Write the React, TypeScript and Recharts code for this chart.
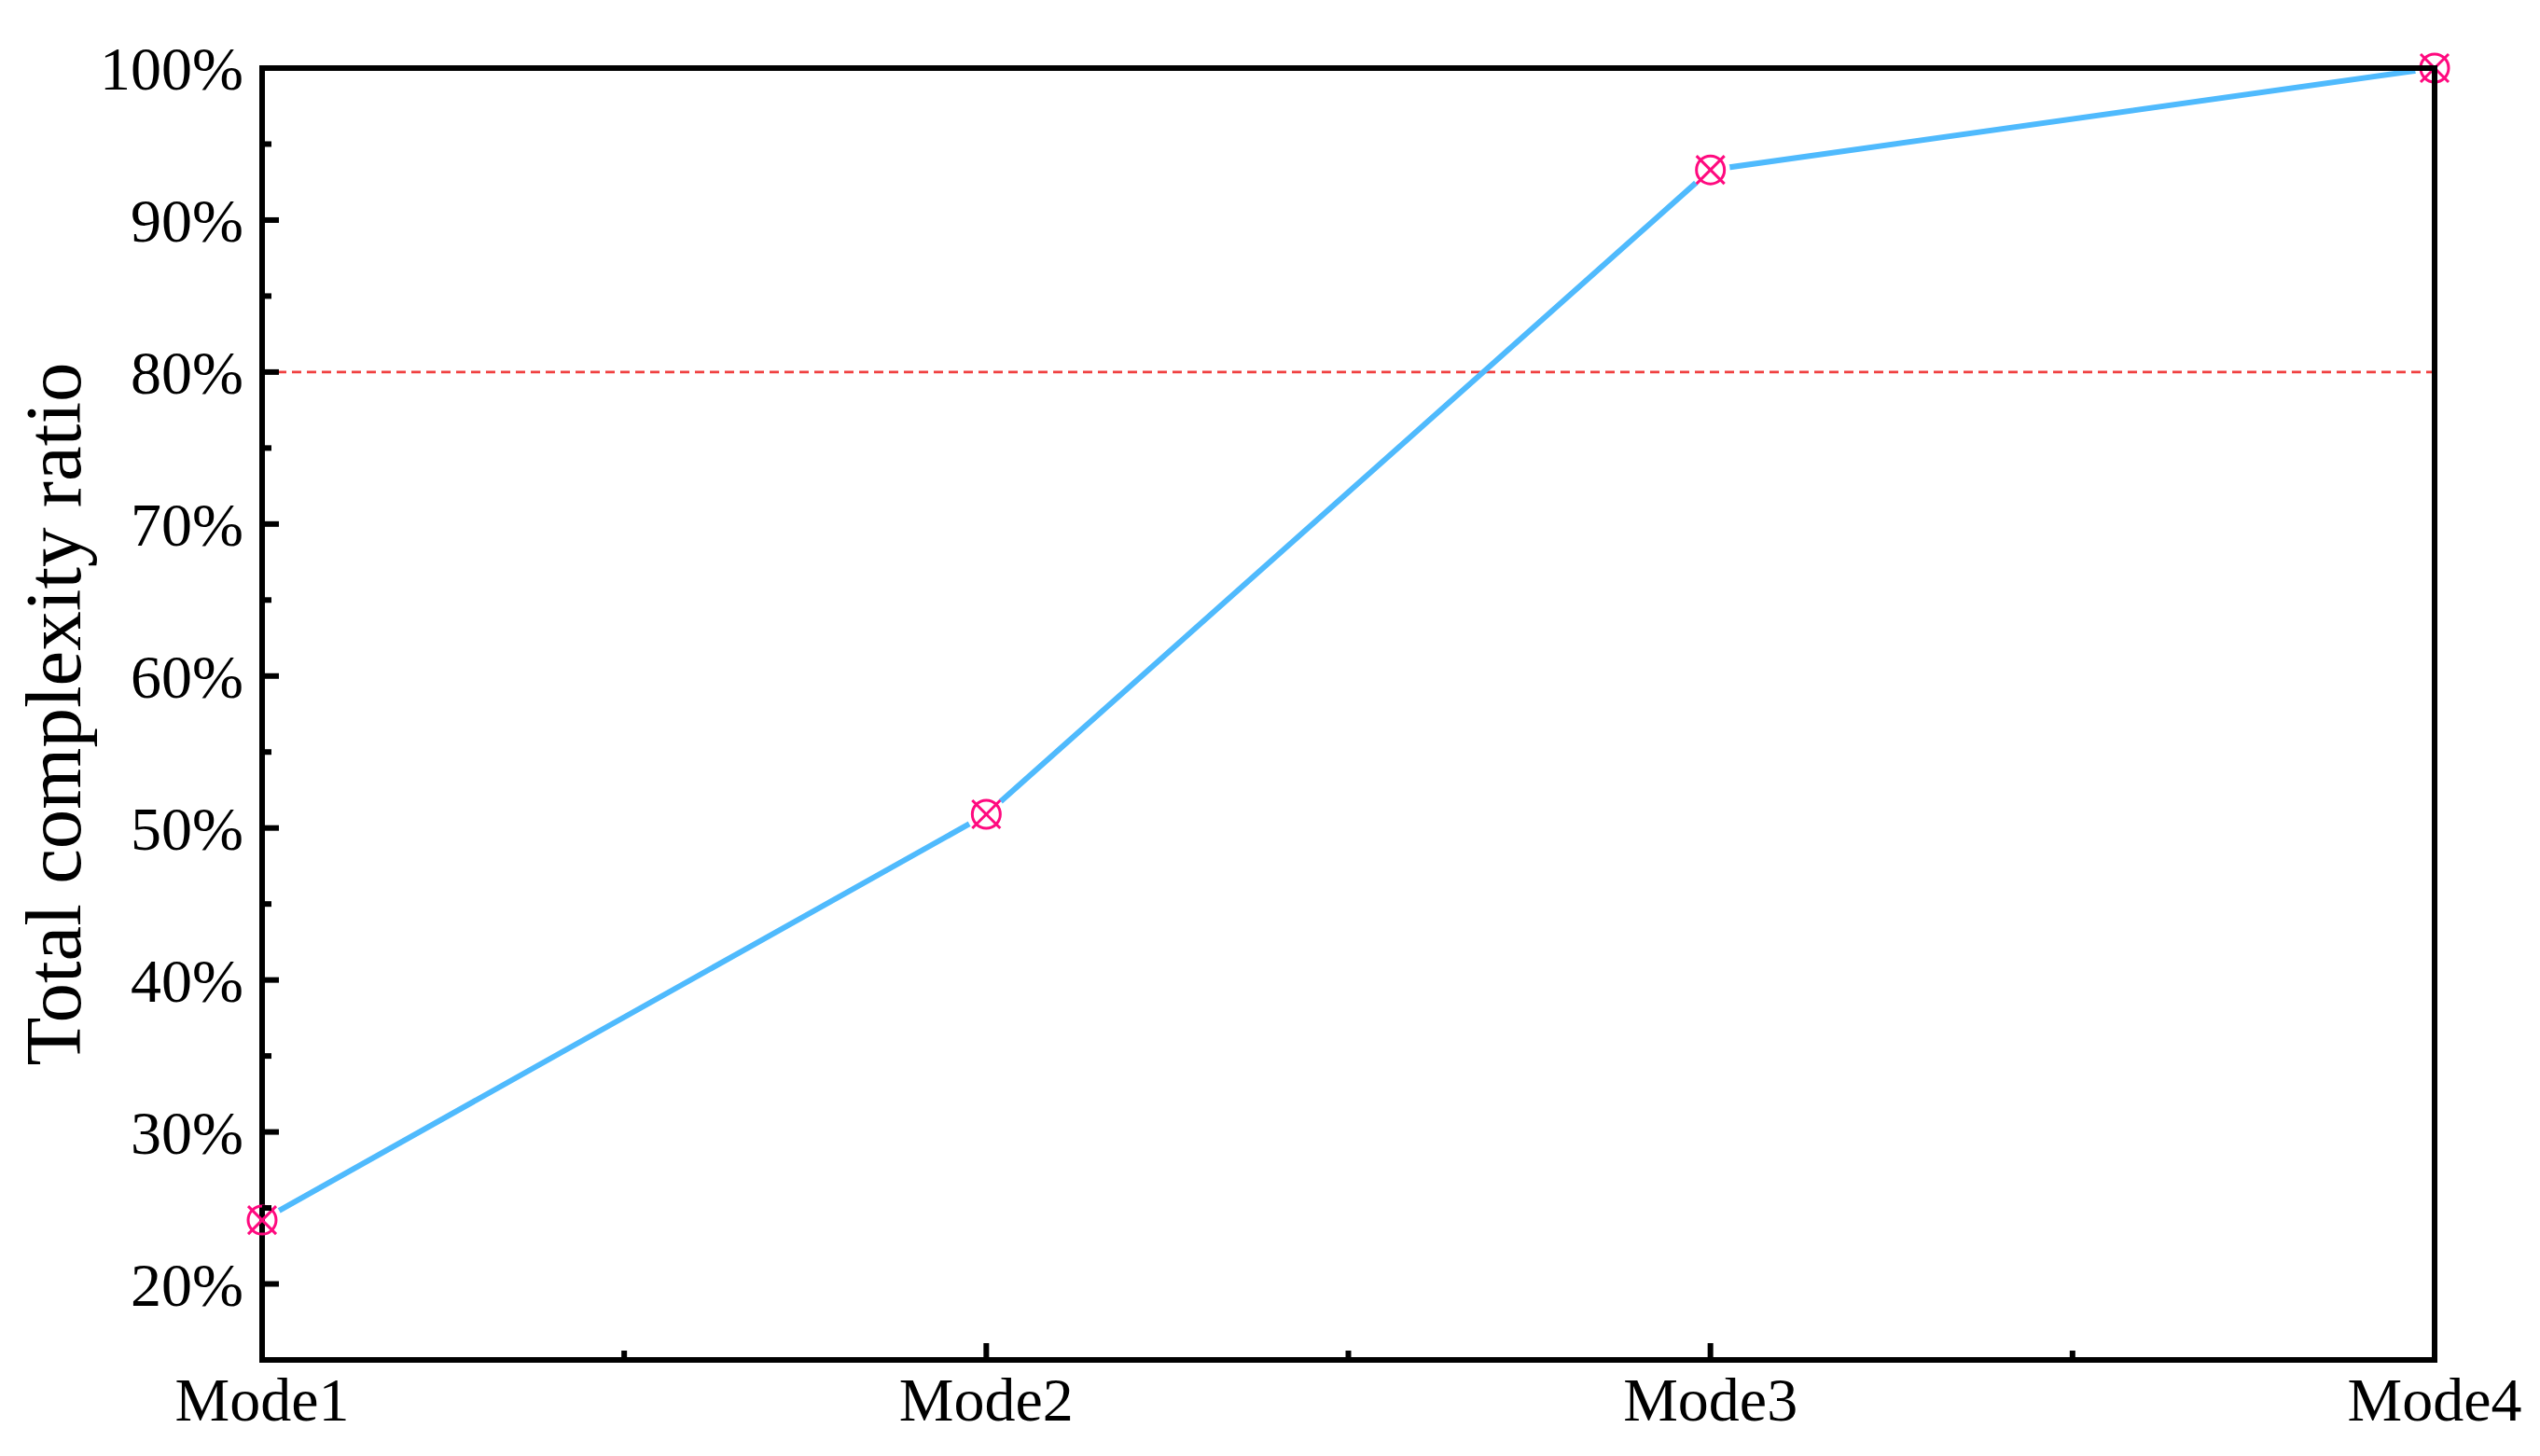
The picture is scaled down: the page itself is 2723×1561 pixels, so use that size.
import React from "react";
import { LineChart, Line, XAxis, YAxis, ReferenceLine } from "recharts";

const categories = ["Mode1", "Mode2", "Mode3", "Mode4"];
const ratios = [24.2, 50.9, 93.3, 100];
const yTicks = [15, 20, 25, 30, 35, 40, 45, 50, 55, 60, 65, 70, 75, 80, 85, 90, 95, 100];
const xTicks = [1, 1.5, 2, 2.5, 3, 3.5, 4];
const yDomain = [15, 100];
const xDomain = [1, 4];
const threshold = 80;

const data = categories.map((name, i) => ({ pos: i + 1, name, ratio: ratios[i] }));

const FONT = '"Liberation Serif", "DejaVu Serif", serif';
const LINE_COLOR = "#4FBAFD";
const MARK_COLOR = "#FF0A7F";
const AXIS_W = 6;
const Y_MARGIN = 20;
const X_MARGIN = 22;
const HOLE_R = 21;

const YTick = (props: any) => {
  const { x, y, payload } = props;
  const v = payload.value;
  const major = v % 10 === 0;
  const ax = x + Y_MARGIN;
  return (
    <g>
      <line x1={ax} x2={ax + (major ? 18 : 10)} y1={y} y2={y} stroke="#000" strokeWidth={AXIS_W} />
      {major && (
        <text x={x} y={y} dy="0.35em" textAnchor="end" fontFamily={FONT} fontSize={66} fill="#000">
          {v}%
        </text>
      )}
    </g>
  );
};

const XTick = (props: any) => {
  const { x, y, payload } = props;
  const v = payload.value;
  const major = Number.isInteger(v);
  const ay = y - X_MARGIN;
  return (
    <g>
      <line x1={x} x2={x} y1={ay} y2={ay - (major ? 18 : 10)} stroke="#000" strokeWidth={AXIS_W} />
      {major && (
        <text x={x} y={ay + 65} textAnchor="middle" fontFamily={FONT} fontSize={66} fill="#000">
          {categories[v - 1]}
        </text>
      )}
    </g>
  );
};

const Marker = (props: any) => {
  const { cx, cy, index } = props;
  if (cx == null || cy == null) return null;
  const d = 15;
  return (
    <g key={`m-${index}`}>
      <defs>
        <circle id={`gap-hole-${index}`} cx={cx} cy={cy} r={HOLE_R} />
      </defs>
      {index === 0 && (
        <defs>
          <mask id="line-gaps" maskUnits="userSpaceOnUse" x={-5000} y={-5000} width={20000} height={20000}>
            <rect x={-5000} y={-5000} width={20000} height={20000} fill="#fff" />
            {data.map((_, i) => (
              <use key={i} href={`#gap-hole-${i}`} fill="#000" />
            ))}
          </mask>
        </defs>
      )}
      <circle cx={cx} cy={cy} r={15} fill="none" stroke={MARK_COLOR} strokeWidth={3} />
      <line x1={cx - d} y1={cy - d} x2={cx + d} y2={cy + d} stroke={MARK_COLOR} strokeWidth={3} />
      <line x1={cx - d} y1={cy + d} x2={cx + d} y2={cy - d} stroke={MARK_COLOR} strokeWidth={3} />
    </g>
  );
};

const YLabel = (props: any) => {
  const vb = props.viewBox || {};
  const cy = vb.y + vb.height / 2;
  const cx = 49;
  return (
    <text
      x={cx}
      y={cy}
      transform={`rotate(-90 ${cx} ${cy})`}
      textAnchor="middle"
      dominantBaseline="central"
      fontFamily={FONT}
      fontSize={85}
      fill="#000"
    >
      Total complexity ratio
    </text>
  );
};

export default function App() {
  return (
    <LineChart width={2707} height={1545} data={data} margin={{ top: 65, right: 105, bottom: 0, left: 0 }}>
      <ReferenceLine y={threshold} stroke="#F04040" strokeWidth={2.7} strokeDasharray="10 6" />
      <Line
        dataKey="ratio"
        stroke={LINE_COLOR}
        strokeWidth={6}
        dot={Marker}
        activeDot={false}
        mask="url(#line-gaps)"
        isAnimationActive={false}
      />
      <ReferenceLine y={yDomain[1]} stroke="#000" strokeWidth={AXIS_W} strokeLinecap="square" zIndex={900} />
      <ReferenceLine x={xDomain[1]} stroke="#000" strokeWidth={AXIS_W} strokeLinecap="square" zIndex={900} />
      <XAxis
        dataKey="pos"
        type="number"
        domain={xDomain}
        ticks={xTicks}
        interval={0}
        height={95}
        tickSize={0}
        tickMargin={X_MARGIN}
        tick={XTick}
        axisLine={{ stroke: "#000", strokeWidth: AXIS_W, strokeLinecap: "square" }}
      />
      <YAxis
        type="number"
        domain={yDomain}
        ticks={yTicks}
        interval={0}
        width={273}
        tickSize={0}
        tickMargin={Y_MARGIN}
        tick={YTick}
        axisLine={{ stroke: "#000", strokeWidth: AXIS_W, strokeLinecap: "square" }}
        label={<YLabel />}
      />
    </LineChart>
  );
}
